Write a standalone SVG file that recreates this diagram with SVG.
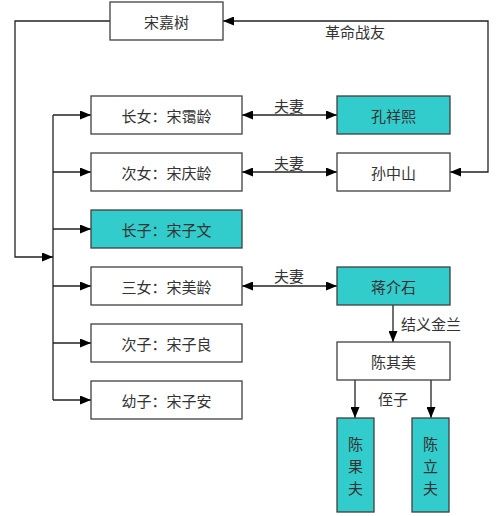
<svg xmlns="http://www.w3.org/2000/svg" width="504" height="516" viewBox="0 0 504 516">
<style>
.box{fill:#fff;stroke:#404040;stroke-width:1.3}
.teal{fill:#33CCCC}
.t{font-family:"Noto Sans CJK SC","Noto Sans",sans-serif;font-size:15px;fill:#333;text-anchor:middle;dominant-baseline:central}
.lbl{font-family:"Noto Sans CJK SC","Noto Sans",sans-serif;font-size:15px;fill:#333;text-anchor:middle;dominant-baseline:central}
.c{fill:none;stroke:#222;stroke-width:1.3}
</style>
<defs>
<marker id="ah" markerWidth="11" markerHeight="9" refX="11" refY="4.5" orient="auto" markerUnits="userSpaceOnUse">
<path d="M0,0 L11,4.5 L0,9 Z" fill="#000"/>
</marker>
<marker id="as" markerWidth="11" markerHeight="9" refX="0" refY="4.5" orient="auto" markerUnits="userSpaceOnUse">
<path d="M11,0 L0,4.5 L11,9 Z" fill="#000"/>
</marker>
</defs>
<rect width="504" height="516" fill="#fff"/>
<g id="connectors">
<path class="c" d="M110,21 H15 V257 H53" marker-end="url(#ah)"/>
<path class="c" d="M53,115 V400"/>
<path class="c" d="M53,115 H91" marker-end="url(#ah)"/>
<path class="c" d="M53,172 H91" marker-end="url(#ah)"/>
<path class="c" d="M53,229 H91" marker-end="url(#ah)"/>
<path class="c" d="M53,286 H91" marker-end="url(#ah)"/>
<path class="c" d="M53,343 H91" marker-end="url(#ah)"/>
<path class="c" d="M53,400 H91" marker-end="url(#ah)"/>
<path class="c" d="M450,172 H488 V21 H223" marker-start="url(#as)" marker-end="url(#ah)"/>
<path class="c" d="M242,115 H337" marker-start="url(#as)" marker-end="url(#ah)"/>
<path class="c" d="M242,172 H337" marker-start="url(#as)" marker-end="url(#ah)"/>
<path class="c" d="M242,286 H337" marker-start="url(#as)" marker-end="url(#ah)"/>
<path class="c" d="M393,305 V342" marker-end="url(#ah)"/>
<path class="c" d="M355,380 V418" marker-end="url(#ah)"/>
<path class="c" d="M431,380 V418" marker-end="url(#ah)"/>
<text class="lbl" x="355" y="31">革命战友</text>
<text class="lbl" x="289" y="105">夫妻</text>
<text class="lbl" x="289" y="162">夫妻</text>
<text class="lbl" x="289" y="275">夫妻</text>
<text class="lbl" x="431" y="323">结义金兰</text>
<text class="lbl" x="393" y="398">侄子</text>
</g>
<g id="songjiashu"><rect class="box" x="110" y="2" width="113" height="38"/><text class="t" x="166.5" y="21">宋嘉树</text></g>
<g id="ailing"><rect class="box" x="91" y="96" width="151" height="38"/><text class="t" x="166.5" y="115">长女：宋霭龄</text></g>
<g id="qingling"><rect class="box" x="91" y="153" width="151" height="38"/><text class="t" x="166.5" y="172">次女：宋庆龄</text></g>
<g id="ziwen"><rect class="box teal" x="91" y="210" width="151" height="38"/><text class="t" x="166.5" y="229">长子：宋子文</text></g>
<g id="meiling"><rect class="box" x="91" y="267" width="151" height="38"/><text class="t" x="166.5" y="286">三女：宋美龄</text></g>
<g id="ziliang"><rect class="box" x="91" y="324" width="151" height="38"/><text class="t" x="166.5" y="343">次子：宋子良</text></g>
<g id="zian"><rect class="box" x="91" y="381" width="151" height="38"/><text class="t" x="166.5" y="400">幼子：宋子安</text></g>
<g id="kongxiangxi"><rect class="box teal" x="337" y="96" width="113" height="38"/><text class="t" x="393.5" y="115">孔祥熙</text></g>
<g id="sunzhongshan"><rect class="box" x="337" y="153" width="113" height="38"/><text class="t" x="393.5" y="172">孙中山</text></g>
<g id="jiangjieshi"><rect class="box teal" x="337" y="267" width="113" height="38"/><text class="t" x="393.5" y="286">蒋介石</text></g>
<g id="chenqimei"><rect class="box" x="337" y="342" width="113" height="38"/><text class="t" x="393.5" y="361">陈其美</text></g>
<g id="chenguofu"><rect class="box teal" x="337" y="418" width="37" height="94"/><text class="t" x="355.5" y="443">陈</text><text class="t" x="355.5" y="465">果</text><text class="t" x="355.5" y="487">夫</text></g>
<g id="chenlifu"><rect class="box teal" x="412" y="418" width="37" height="94"/><text class="t" x="430.5" y="443">陈</text><text class="t" x="430.5" y="465">立</text><text class="t" x="430.5" y="487">夫</text></g>
</svg>
